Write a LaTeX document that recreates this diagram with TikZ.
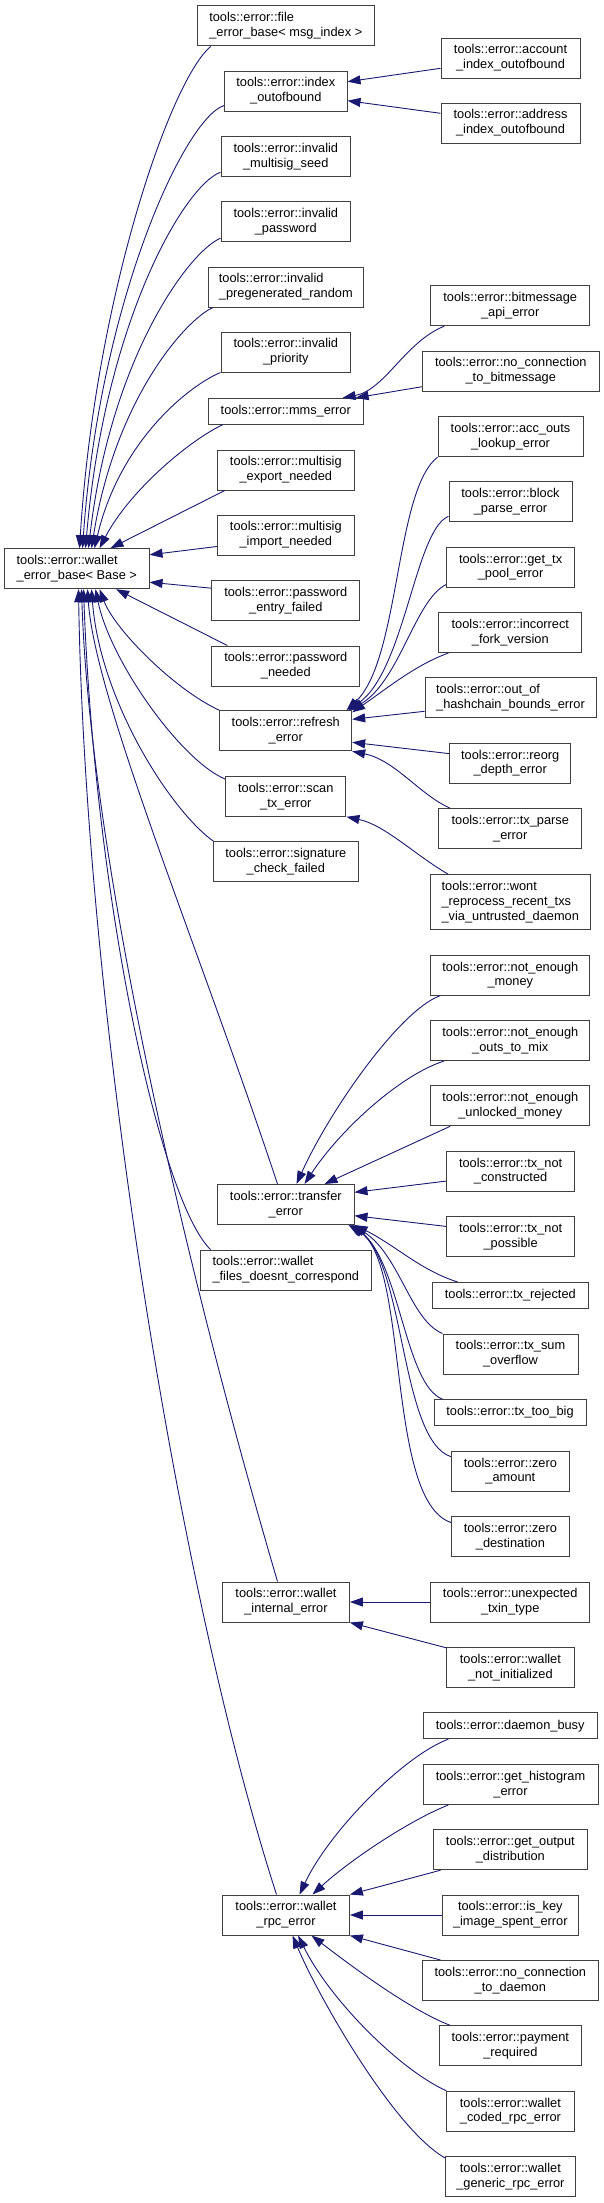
\documentclass[tikz,border=0pt]{standalone}
\usepackage{fontspec}
\setmainfont{Liberation Sans}
\usetikzlibrary{arrows.meta}
\definecolor{navy}{HTML}{191970}
\newcommand\dfont{\fontsize{12.8}{14.8}\selectfont}
\tikzset{
  cls/.style={draw=black!75, line width=1pt, fill=white, inner sep=0pt, minimum height=40pt, font=\dfont},
  one/.style={minimum height=25.7pt},
  inh/.style={draw=navy, line width=0.9pt, -{Triangle[length=13pt,width=9pt]}},
}
\begin{document}
\begin{tikzpicture}[x=1pt,y=-1pt]
\useasboundingbox (0,0) rectangle (604,2203);
% ---- middle column
\node[cls, minimum width=177pt, align=left] (file) at (285.8,25.9) {tools::error::file\\\_error\_base< msg\_index >};
\node[cls, minimum width=122.4pt, align=center] (index) at (285.8,91) {tools::error::index\\\_outofbound};
\node[cls, minimum width=129.5pt, align=center] (seed) at (285.8,156.7) {tools::error::invalid\\\_multisig\_seed};
\node[cls, minimum width=129.5pt, align=center] (pw) at (285.8,221.7) {tools::error::invalid\\\_password};
\node[cls, minimum width=154.6pt, align=left] (pregen) at (285.8,287) {tools::error::invalid\\\_pregenerated\_random};
\node[cls, minimum width=129.5pt, align=center] (prio) at (285.8,352) {tools::error::invalid\\\_priority};
\node[cls, one, minimum width=154.6pt] (mms) at (285.8,411.2) {tools::error::mms\_error};
\node[cls, minimum width=137pt, align=center] (export) at (285.8,470) {tools::error::multisig\\\_export\_needed};
\node[cls, minimum width=137pt, align=center] (import) at (285.8,535) {tools::error::multisig\\\_import\_needed};
\node[cls, minimum width=148pt, align=center] (entry) at (285.8,600.7) {tools::error::password\\\_entry\_failed};
\node[cls, minimum width=148pt, align=center] (needed) at (285.8,666) {tools::error::password\\\_needed};
\node[cls, minimum width=131.7pt, align=center] (refresh) at (285.8,730.8) {tools::error::refresh\\\_error};
\node[cls, minimum width=120.3pt, align=center] (scan) at (285.8,796.3) {tools::error::scan\\\_tx\_error};
\node[cls, minimum width=145.6pt, align=center] (sig) at (285.8,861.8) {tools::error::signature\\\_check\_failed};
\node[cls, minimum width=136.4pt, align=center] (transfer) at (285.8,1204.5) {tools::error::transfer\\\_error};
\node[cls, minimum width=171pt, align=left] (files) at (285.8,1270) {tools::error::wallet\\\_files\_doesnt\_correspond};
\node[cls, minimum width=126.8pt, align=center] (internal) at (286,1602) {tools::error::wallet\\\_internal\_error};
\node[cls, minimum width=126.8pt, align=center] (rpc) at (286,1915) {tools::error::wallet\\\_rpc\_error};
% ---- base
\node[cls, minimum width=144.4pt, align=left] (base) at (76.8,568.7) {tools::error::wallet\\\_error\_base< Base >};
% ---- right column
\node[cls, minimum width=139pt, align=center] (account) at (510.5,58) {tools::error::account\\\_index\_outofbound};
\node[cls, minimum width=139pt, align=center] (address) at (510.5,123) {tools::error::address\\\_index\_outofbound};
\node[cls, minimum width=159pt, align=center] (bitmsg) at (510.2,305.7) {tools::error::bitmessage\\\_api\_error};
\node[cls, minimum width=176.4pt, align=center] (nocb) at (510.8,371) {tools::error::no\_connection\\\_to\_bitmessage};
\node[cls, minimum width=145pt, align=center] (accouts) at (510.5,436.7) {tools::error::acc\_outs\\\_lookup\_error};
\node[cls, minimum width=123pt, align=center] (block) at (510.5,501.8) {tools::error::block\\\_parse\_error};
\node[cls, minimum width=128.2pt, align=center] (pool) at (510.6,567.1) {tools::error::get\_tx\\\_pool\_error};
\node[cls, minimum width=142.7pt, align=center] (fork) at (510.3,632.5) {tools::error::incorrect\\\_fork\_version};
\node[cls, minimum width=171pt, align=left] (hash) at (510.5,697.8) {tools::error::out\_of\\\_hashchain\_bounds\_error};
\node[cls, minimum width=121.5pt, align=center] (reorg) at (510.2,763.1) {tools::error::reorg\\\_depth\_error};
\node[cls, minimum width=142.7pt, align=center] (txparse) at (510.3,828.7) {tools::error::tx\_parse\\\_error};
\node[cls, minimum width=160.5pt, minimum height=54.6pt, align=left] (wont) at (510.25,902) {tools::error::wont\\\_reprocess\_recent\_txs\\\_via\_untrusted\_daemon};
\node[cls, minimum width=159.3pt, align=center] (nem) at (510.3,975.2) {tools::error::not\_enough\\\_money};
\node[cls, minimum width=159.3pt, align=center] (outs) at (510.3,1040.5) {tools::error::not\_enough\\\_outs\_to\_mix};
\node[cls, minimum width=159.3pt, align=center] (unlocked) at (510.3,1105.8) {tools::error::not\_enough\\\_unlocked\_money};
\node[cls, minimum width=128.2pt, align=center] (constructed) at (510.6,1171.2) {tools::error::tx\_not\\\_constructed};
\node[cls, minimum width=128.2pt, align=center] (possible) at (510.6,1236.5) {tools::error::tx\_not\\\_possible};
\node[cls, one, minimum width=156.6pt] (rej) at (510.3,1295.3) {tools::error::tx\_rejected};
\node[cls, minimum width=135pt, align=center] (sum) at (510.5,1354) {tools::error::tx\_sum\\\_overflow};
\node[cls, one, minimum width=152pt] (big) at (510,1412.5) {tools::error::tx\_too\_big};
\node[cls, minimum width=117.8pt, align=center] (za) at (510.4,1471.2) {tools::error::zero\\\_amount};
\node[cls, minimum width=117.8pt, align=center] (zd) at (510.4,1536.7) {tools::error::zero\\\_destination};
\node[cls, minimum width=159pt, align=center] (unexp) at (510.2,1602) {tools::error::unexpected\\\_txin\_type};
\node[cls, minimum width=127.2pt, align=center] (notinit) at (510.4,1667.3) {tools::error::wallet\\\_not\_initialized};
\node[cls, one, minimum width=173.7pt] (busy) at (510.2,1725.8) {tools::error::daemon\_busy};
\node[cls, minimum width=175pt, align=center] (hist) at (510.5,1784.5) {tools::error::get\_histogram\\\_error};
\node[cls, minimum width=153.3pt, align=center] (outdist) at (510.35,1849.7) {tools::error::get\_output\\\_distribution};
\node[cls, minimum width=136.6pt, align=center] (iskey) at (510.3,1915) {tools::error::is\_key\\\_image\_spent\_error};
\node[cls, minimum width=175.4pt, align=center] (nocd) at (510.3,1980.5) {tools::error::no\_connection\\\_to\_daemon};
\node[cls, minimum width=142.7pt, align=center] (pay) at (510.35,2045.8) {tools::error::payment\\\_required};
\node[cls, minimum width=127.2pt, align=center] (coded) at (510.4,2111.2) {tools::error::wallet\\\_coded\_rpc\_error};
\node[cls, minimum width=129.3pt, align=center] (generic) at (510.35,2176.5) {tools::error::wallet\\\_generic\_rpc\_error};

% ---- edges into base (top)
\draw[inh] ([xshift=14pt]file.south west) .. controls (170,80) and (95,300) .. ([xshift=75.4pt]base.north west);
\draw[inh] ([yshift=6pt]index.south west) .. controls (185,118) and (100,300) .. ([xshift=78.4pt]base.north west);
\draw[inh] ([yshift=5pt]seed.south west) .. controls (185,185) and (105,320) .. ([xshift=81.4pt]base.north west);
\draw[inh] ([yshift=4pt]pw.south west) .. controls (188,252) and (110,360) .. ([xshift=84.4pt]base.north west);
\draw[inh] ([xshift=5pt]pregen.south west) .. controls (185,320) and (115,400) .. ([xshift=87.4pt]base.north west);
\draw[inh] (prio.south west) .. controls (190,385) and (120,440) .. ([xshift=90.4pt]base.north west);
\draw[inh] ([xshift=15pt]mms.south west) .. controls (190,440) and (130,490) .. ([xshift=95.4pt]base.north west);
\draw[inh] ([xshift=8pt]export.south west) -- ([xshift=106.4pt]base.north west);
\draw[inh] ([yshift=9pt]import.south west) -- ([yshift=-6.6pt]base.north east);
\draw[inh] ([yshift=-8pt]entry.north west) -- ([yshift=7pt]base.south east);
\draw[inh] ([xshift=16pt]needed.north west) -- ([xshift=112pt]base.south west);
% ---- edges into base (bottom)
\draw[inh] (refresh.north west) .. controls (175,690) and (115,630) .. ([xshift=95.4pt]base.south west);
\draw[inh] ([yshift=-3.3pt]scan.north west) .. controls (180,760) and (110,660) .. ([xshift=91.4pt]base.south west);
\draw[inh] ([xshift=1pt]sig.north west) .. controls (170,810) and (100,700) .. ([xshift=87.4pt]base.south west);
\draw[inh] ([xshift=60.4pt]transfer.north west) .. controls (200,950) and (95,700) .. ([xshift=83.4pt]base.south west);
\draw[inh] ([xshift=10.7pt]files.north west) .. controls (160,1200) and (95,900) .. ([xshift=79.4pt]base.south west);
\draw[inh] ([xshift=55.4pt]internal.north west) .. controls (180,1250) and (90,850) .. ([xshift=77.4pt]base.south west);
\draw[inh] ([xshift=54.4pt]rpc.north west) .. controls (175,1580) and (85,1000) .. ([xshift=74.4pt]base.south west);

% ---- index_outofbound
\draw[inh] ([yshift=-10.3pt]account.west) -- ([yshift=9.3pt]index.east);
\draw[inh] ([yshift=9.7pt]address.west) -- ([yshift=-9.7pt]index.east);
% ---- mms_error
\draw[inh] ([xshift=14pt]bitmsg.south west) .. controls (405,342) and (385,390) .. ([xshift=134.6pt]mms.north west);
\draw[inh] ([yshift=-15.7pt]nocb.west) -- ([xshift=147.6pt]mms.north west);
% ---- refresh_error
\draw[inh] (accouts.south west) .. controls (395,490) and (400,660) .. ([xshift=-5.7pt]refresh.north east);
\draw[inh] ([yshift=6pt]block.south west) .. controls (415,530) and (405,670) .. ([xshift=-3.7pt]refresh.north east);
\draw[inh] ([yshift=3pt]pool.south west) .. controls (415,600) and (400,680) .. ([xshift=-1.7pt]refresh.north east);
\draw[inh] ([xshift=10pt]fork.south west) .. controls (415,665) and (385,690) .. ([yshift=-2pt]refresh.north east);
\draw[inh] ([yshift=7pt]hash.south west) -- ([yshift=-9pt]refresh.north east);
\draw[inh] ([yshift=-11pt]reorg.north west) -- ([yshift=9pt]refresh.south east);
\draw[inh] ([xshift=11.7pt]txparse.north west) .. controls (420,795) and (395,760) .. (refresh.south east);
% ---- scan_tx_error
\draw[inh] ([xshift=18.7pt]wont.north west) .. controls (415,855) and (385,825) .. (scan.south east);
% ---- transfer_error
\draw[inh] ([xshift=10pt]nem.south west) .. controls (400,1010) and (330,1110) .. ([xshift=79.4pt]transfer.north west);
\draw[inh] ([xshift=14pt]outs.south west) .. controls (400,1075) and (340,1130) .. ([xshift=87.4pt]transfer.north west);
\draw[inh] ([xshift=20pt]unlocked.south west) -- ([xshift=107.4pt]transfer.north west);
\draw[inh] ([yshift=10.6pt]constructed.south west) -- ([yshift=-8.3pt]transfer.north east);
\draw[inh] ([yshift=-10.4pt]possible.north west) -- ([yshift=9.3pt]transfer.south east);
\draw[inh] ([xshift=26pt]rej.north west) .. controls (420,1270) and (395,1245) .. (transfer.south east);
\draw[inh] (sum.north west) .. controls (410,1320) and (400,1255) .. ([xshift=-1.5pt]transfer.south east);
\draw[inh] ([xshift=9pt]big.north west) .. controls (405,1385) and (400,1262) .. ([xshift=-3pt]transfer.south east);
\draw[inh] ([yshift=-6pt]za.north west) .. controls (400,1440) and (405,1262) .. ([xshift=-4.5pt]transfer.south east);
\draw[inh] ([yshift=-6.3pt]zd.north west) .. controls (385,1500) and (410,1262) .. ([xshift=-6pt]transfer.south east);
% ---- wallet_internal_error
\draw[inh] (unexp.west) -- (internal.east);
\draw[inh] ([yshift=-1pt]notinit.north west) -- (internal.south east);
% ---- wallet_rpc_error
\draw[inh] ([xshift=25.5pt]busy.south west) .. controls (405,1755) and (330,1830) .. ([xshift=77.4pt]rpc.north west);
\draw[inh] ([xshift=25.8pt]hist.south west) .. controls (410,1820) and (350,1860) .. ([xshift=90.4pt]rpc.north west);
\draw[inh] ([xshift=7.3pt]outdist.south west) -- (rpc.north east);
\draw[inh] (iskey.west) -- (rpc.east);
\draw[inh] ([xshift=18.4pt]nocd.north west) -- (rpc.south east);
\draw[inh] ([xshift=11.7pt]pay.north west) .. controls (410,2010) and (350,1965) .. ([xshift=89.4pt]rpc.south west);
\draw[inh] (coded.north west) .. controls (400,2070) and (330,2000) .. ([xshift=76pt]rpc.south west);
\draw[inh] ([yshift=-2pt]generic.north west) .. controls (395,2130) and (320,2000) .. ([xshift=70.4pt]rpc.south west);
\end{tikzpicture}
\end{document}
